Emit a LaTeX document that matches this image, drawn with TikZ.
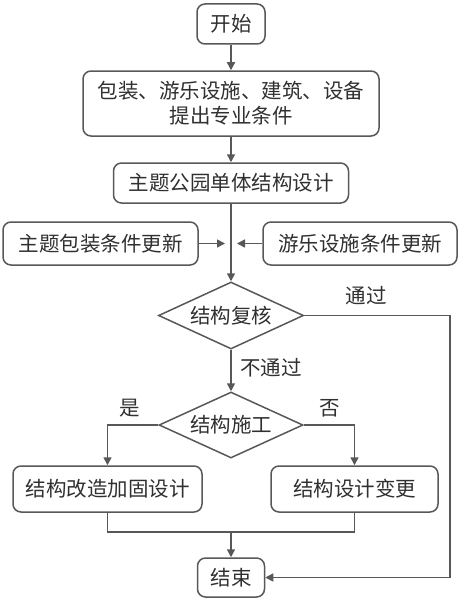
\documentclass[tikz,border=0pt]{standalone}
\usepackage{fontspec}
\setmainfont{Noto Sans CJK SC}
\usetikzlibrary{shapes.geometric,arrows.meta}
\definecolor{linegray}{HTML}{585858}
\definecolor{textgray}{HTML}{303030}

\begin{document}
\begin{tikzpicture}[x=1pt,y=-1pt,
    box/.style={draw=linegray,line width=1.5pt,rounded corners=8pt,fill=white,text=textgray,
        font=\fontsize{20.5}{25}\selectfont,align=center,inner sep=0pt},
    test/.style={diamond,draw=linegray,line width=1.5pt,fill=white,text=textgray,
        font=\fontsize{20.5}{25}\selectfont,inner sep=0pt,aspect=2.2},
    lbl/.style={text=textgray,font=\fontsize{20.5}{25}\selectfont,inner sep=0pt},
    line/.style={draw=linegray,line width=1.5pt},
    arr/.style={line,-{Triangle[length=8pt,width=8pt]}}]
    \useasboundingbox (0,0) rectangle (461,602);

    \node[box,minimum width=68pt,minimum height=40pt] (start) at (231,24) {开始};
    \node[box,minimum width=296pt,minimum height=65pt] (cond) at (231,103.5) {包装、游乐设施、建筑、设备\\提出专业条件};
    \node[box,minimum width=235pt,minimum height=40pt] (design) at (231,183) {主题公园单体结构设计};
    \node[box,minimum width=195pt,minimum height=43pt] (pkg) at (100.5,243.5) {主题包装条件更新};
    \node[box,minimum width=194pt,minimum height=43pt] (ride) at (360,243.5) {游乐设施条件更新};
    \node[test,minimum width=145pt,minimum height=67pt] (check) at (231,315.5) {结构复核};
    \node[test,minimum width=144pt,minimum height=66pt] (build) at (231,425) {结构施工};
    \node[box,minimum width=189pt,minimum height=46pt] (reinf) at (107.5,489) {结构改造加固设计};
    \node[box,minimum width=167pt,minimum height=46pt] (change) at (354.5,489) {结构设计变更};
    \node[box,minimum width=67pt,minimum height=39pt] (finish) at (231,577.5) {结束};

    \coordinate (pkgend) at (225,243.5);
    \coordinate (rideend) at (237,243.5);
    \coordinate (pass) at (450,315.5);
    \coordinate (join) at (231,532);

    \draw[arr] (start) -- (cond);
    \draw[arr] (cond) -- (design);
    \draw[arr] (design) -- (check);
    \draw[arr] (pkg) -- (pkgend);
    \draw[arr] (ride) -- (rideend);
    \draw[arr] (check.east) -- (pass) |- (finish.east);
    \draw[arr] (check) -- (build);
    \draw[arr] (build.west) -| (reinf.north);
    \draw[arr] (build.east) -| (change.north);
    \draw[line] (reinf.south) -- (reinf.south |- join) -- (change.south |- join) -- (change.south);
    \draw[arr] (join) -- (finish);

    \node[lbl] (passlbl) at (366,296) {通过};
    \node[lbl,anchor=west] (faillbl) at (240,368) {不通过};
    \node[lbl] (yeslbl) at (130,408) {是};
    \node[lbl] (nolbl) at (330,408) {否};
\end{tikzpicture}
\end{document}
